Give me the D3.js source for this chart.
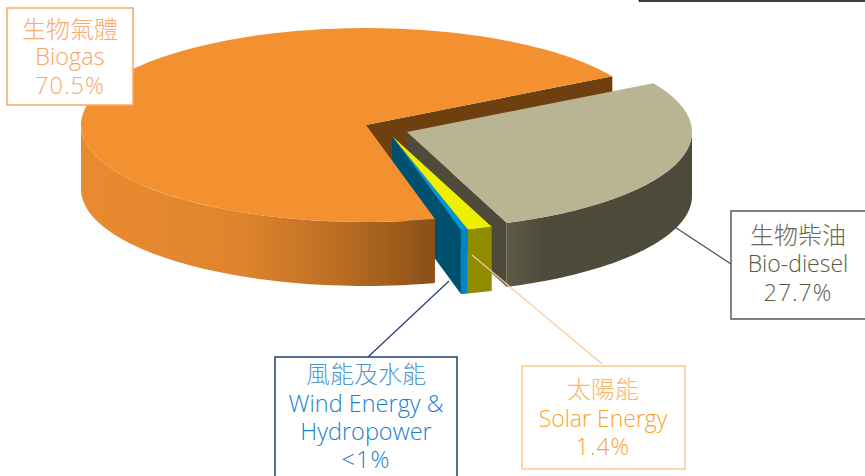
<!DOCTYPE html>
<html>
<head>
<meta charset="utf-8">
<script src="https://cdn.jsdelivr.net/npm/d3@7"></script>
<style>
  html, body { margin: 0; padding: 0; background: #fff; }
  svg { display: block; }
  text { font-family: "Open Sans", "Noto Sans CJK TC", sans-serif; font-weight: 300; font-size: 24px; text-anchor: middle; dominant-baseline: middle; }
  .zh { font-family: "Noto Sans CJK TC", sans-serif; font-size: 24px; }
  .share { letter-spacing: 1px; }
</style>
</head>
<body>
<svg id="chart" width="865" height="476"></svg>
<script>
const categories = ['Biogas', 'Bio-diesel', 'Solar Energy', 'Wind Energy & Hydropower']
const categoriesZh = ['生物氣體', '生物柴油', '太陽能', '風能及水能']
const shares = [70.5, 27.7, 1.4, 0.4]
const shareLabels = ['70.5%', '27.7%', '1.4%', '<1%']

const rx = 285, ry = 97, cx = 366, cy = 125, depth = 64
const toRad = Math.PI / 180

// drawing order of the slices is not data order, so look them up by index
const BIOGAS = 0, DIESEL = 1, SOLAR = 2, WIND = 3

const styles = [
    {top: '#f39130', dx: 0, dy: 0},
    {top: '#b9b491', wall: '#4e4b3b', dx: 41, dy: 7},
    {top: '#eef000', wall: '#8f8c00', dx: 26, dy: 11},
    {top: '#0095d8', wall: '#0086c4', cut: '#00506f', dx: 26, dy: 11}
]

const boxes = [
    {x: 7, y: 8, w: 126, h: 97, cx: 70, lines: [31, 59, 88], size: 23.5, stroke: '#f6a868', zh: '#f8ab6c', en: '#f8a660'},
    {x: 731, y: 211, w: 150, h: 108, cx: 798, lines: [237, 266, 295], size: 23, stroke: '#5a5a58', zh: '#6b6957', en: '#5c5a46'},
    {x: 522, y: 366, w: 163, h: 103, cx: 603, lines: [391, 421, 449], size: 23, stroke: '#fbc793', zh: '#f9b565', en: '#f8a42e'},
    {x: 275, y: 357, w: 182, h: 140, cx: 366, lines: [376, 406, 434, 462], size: 23.5, stroke: '#1f3f70', zh: '#4f97d2', en: '#1a7fcf'}
]

const leaders = [
    {x1: 652, y1: 212, x2: 731, y2: 264, stroke: '#474c55'},
    {x1: 449, y1: 281, x2: 368, y2: 357, stroke: '#1f3f70'},
    {x1: 472, y1: 255, x2: 602, y2: 364, stroke: '#fbc793'}
]

const svg = d3.select('#chart')
const defs = svg.append('defs')

function wallGradient(id, x1, x2, stops) {
    const g = defs.append('linearGradient')
        .attr('id', id)
        .attr('gradientUnits', 'userSpaceOnUse')
        .attr('x1', x1).attr('x2', x2).attr('y1', 0).attr('y2', 0)
    stops.forEach(s => g.append('stop').attr('offset', s[0]).attr('stop-color', s[1]))
}
wallGradient('orangeWall', 81, 432, [[0, '#e98a2f'], [0.45, '#e0852d'], [0.75, '#b86c22'], [1, '#8b5118']])
wallGradient('dieselWall', 505, 692, [[0, '#5f5b48'], [0.2, '#4e4b3b'], [1, '#4c4a3a']])

// d3.pie gives the slice angles, clockwise from 12 o'clock
const slices = d3.pie().sort(null)
    .startAngle(166 * toRad)
    .endAngle(526 * toRad)(shares)

const arc = d3.arc().innerRadius(0).outerRadius(rx)

function px(a, s) { return cx + s.dx + rx * Math.sin(a) }
function py(a, s) { return cy + s.dy - ry * Math.cos(a) }

function topFace(i) {
    const s = styles[i]
    svg.append('path')
        .attr('d', arc(slices[i]))
        .attr('transform', `translate(${cx + s.dx},${cy + s.dy}) scale(1,${ry / rx})`)
        .attr('fill', s.top)
}

// outer wall of a slice, clipped to the front half of the ellipse
function outerWall(i, fill) {
    const s = styles[i]
    // slices after biogas have wrapped past a full turn
    const turn = slices[i].startAngle >= 2 * Math.PI ? 2 * Math.PI : 0
    const a0 = Math.max(slices[i].startAngle - turn, 90 * toRad)
    const a1 = Math.min(slices[i].endAngle - turn, 270 * toRad)
    const angles = d3.range(0, 61).map(k => a0 + (a1 - a0) * k / 60)
    const area = d3.area()
        .x(a => px(a, s))
        .y0(a => py(a, s))
        .y1(a => py(a, s) + depth)
    svg.append('path').attr('d', area(angles)).attr('fill', fill)
}

// flat wall running from the slice's apex out to the rim at angle a
function cutWall(a, s, fill) {
    const pts = [
        [cx + s.dx, cy + s.dy],
        [px(a, s), py(a, s)],
        [px(a, s), py(a, s) + depth],
        [cx + s.dx, cy + s.dy + depth]
    ]
    svg.append('path').attr('d', d3.line()(pts) + 'Z').attr('fill', fill)
}

// back to front
cutWall(slices[BIOGAS].endAngle, styles[BIOGAS], '#6e400f')

outerWall(DIESEL, 'url(#dieselWall)')
cutWall(slices[DIESEL].endAngle, styles[DIESEL], styles[DIESEL].wall)
topFace(DIESEL)

cutWall(slices[WIND].endAngle, styles[WIND], styles[WIND].cut)

outerWall(BIOGAS, 'url(#orangeWall)')
topFace(BIOGAS)

outerWall(WIND, styles[WIND].wall)
topFace(WIND)
outerWall(SOLAR, styles[SOLAR].wall)
topFace(SOLAR)

svg.selectAll('.leader')
    .data(leaders)
    .join('line')
    .attr('class', 'leader')
    .attr('x1', d => d.x1).attr('y1', d => d.y1)
    .attr('x2', d => d.x2).attr('y2', d => d.y2)
    .attr('stroke', d => d.stroke)
    .attr('stroke-width', 1.2)

// callouts
boxes.forEach((b, i) => {
    svg.append('rect')
        .attr('x', b.x).attr('y', b.y)
        .attr('width', b.w).attr('height', b.h)
        .attr('fill', '#fff')
        .attr('stroke', b.stroke)
        .attr('stroke-width', 1.5)

    const enLines = i === WIND ? ['Wind Energy &', 'Hydropower'] : [categories[i]]
    const lines = [categoriesZh[i], ...enLines, shareLabels[i]]
    const label = svg.append('text').style('font-size', b.size + 'px')
    lines.forEach((t, k) => {
        label.append('tspan')
            .attr('class', k === 0 ? 'zh' : k === lines.length - 1 ? 'share' : null)
            .attr('x', b.cx)
            .attr('y', b.lines[k])
            .attr('fill', k === 0 ? b.zh : b.en)
            .text(t)
    })
})

// bottom edge of a box cut off by the top of the picture
svg.append('rect')
    .attr('x', 639.5).attr('y', -10)
    .attr('width', 260).attr('height', 11)
    .attr('fill', 'none')
    .attr('stroke', '#000')
    .attr('stroke-width', 1.5)
</script>
</body>
</html>
